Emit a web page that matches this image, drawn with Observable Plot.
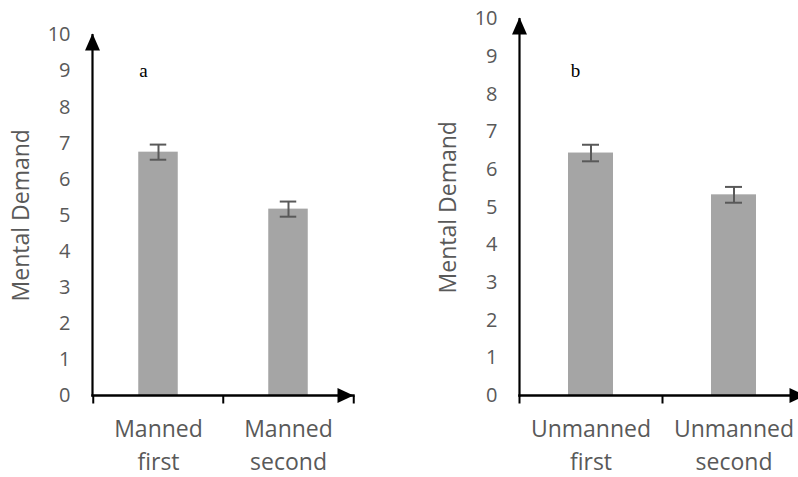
<!DOCTYPE html>
<html>
<head>
<meta charset="utf-8">
<script src="https://cdn.jsdelivr.net/npm/d3@7"></script>
<script src="https://cdn.jsdelivr.net/npm/@observablehq/plot@0.6"></script>
<style>
  html, body { margin: 0; padding: 0; background: #fff; overflow: hidden; }
  #wrap { position: relative; width: 798px; height: 477px; overflow: hidden; }
  #wrap > div { position: absolute; top: 0; }
  #wrap svg { max-width: none !important; }
</style>
</head>
<body>
<div id="wrap"><div id="pa"></div><div id="pb"></div></div>
<script>
// ---- data ----
const categoriesA = ["Manned\nfirst", "Manned\nsecond"];
const meansA = [6.75, 5.17];
const errorsA = [0.21, 0.21];

const categoriesB = ["Unmanned\nfirst", "Unmanned\nsecond"];
const meansB = [6.44, 5.33];
const errorsB = [0.22, 0.21];

const yTicks = [0, 1, 2, 3, 4, 5, 6, 7, 8, 9, 10];
const yLabel = "Mental Demand";
const panelLetters = ["a", "b"];

// ---- symbols ----
const arrowUp = { draw(ctx) { ctx.moveTo(0, 0); ctx.lineTo(-7.5, 17); ctx.lineTo(7.5, 17); ctx.closePath(); } };
const arrowRight = { draw(ctx) { ctx.moveTo(0, 0); ctx.lineTo(-16, -7.5); ctx.lineTo(-16, 7.5); ctx.closePath(); } };
const tickDown = { draw(ctx) { ctx.moveTo(0, 0); ctx.lineTo(0, 8); } };

const FONT = "'Open Sans', sans-serif";
const GREY_TEXT = "#595959";

function panel(cfg) {
  const data = cfg.categories.map((c, i) => ({ cat: c, mean: cfg.means[i], err: cfg.errors[i] }));
  const bw = (cfg.width - cfg.marginLeft - cfg.marginRight) / cfg.categories.length;
  const barInset = (bw - cfg.barWidth) / 2;
  const capInset = (bw - 17) / 2;
  const last = cfg.categories[cfg.categories.length - 1];
  return Plot.plot({
    width: cfg.width,
    height: 477,
    marginLeft: cfg.marginLeft,
    marginRight: cfg.marginRight,
    marginTop: cfg.marginTop,
    marginBottom: 82,
    style: { fontFamily: FONT, color: GREY_TEXT, background: "transparent", overflow: "visible", maxWidth: "none" },
    x: { domain: cfg.categories, padding: 0 },
    y: { domain: [0, 10] },
    marks: [
      Plot.barY(data, { x: "cat", y: "mean", fill: "#a5a5a5", insetLeft: barInset, insetRight: barInset }),
      Plot.ruleX(data, { x: "cat", y1: d => d.mean - d.err, y2: d => d.mean + d.err, stroke: "#595959", strokeWidth: 2 }),
      Plot.tickY(data, { x: "cat", y: d => d.mean + d.err, stroke: "#595959", strokeWidth: 2, insetLeft: capInset, insetRight: capInset }),
      Plot.tickY(data, { x: "cat", y: d => d.mean - d.err, stroke: "#595959", strokeWidth: 2, insetLeft: capInset, insetRight: capInset }),
      Plot.axisY({ ticks: yTicks, tickSize: 0, tickPadding: 22, fontSize: 20, label: null, fill: GREY_TEXT }),
      Plot.axisY({ ticks: [], label: yLabel, labelAnchor: "center", labelArrow: "none", labelOffset: cfg.labelOffset, fontSize: 23, fill: GREY_TEXT }),
      Plot.axisX({ tickSize: 0, tickPadding: 18, fontSize: 23, lineHeight: 1.43, label: null, fill: GREY_TEXT }),
      Plot.frame({ anchor: "left", stroke: "#000", strokeWidth: 2.2 }),
      Plot.frame({ anchor: "bottom", stroke: "#000", strokeWidth: 2.4 }),
      Plot.dot([0], { frameAnchor: "top-left", symbol: arrowUp, fill: "#000", stroke: "none", dy: -1.5 }),
      Plot.dot([0], { frameAnchor: "bottom-right", symbol: arrowRight, fill: "#000", stroke: "none" }),
      Plot.dot(cfg.categories, { x: d => d, y: 0, symbol: tickDown, stroke: "#000", strokeWidth: 2, dx: -bw / 2 }),
      Plot.dot([last], { x: d => d, y: 0, symbol: tickDown, stroke: "#000", strokeWidth: 2, dx: bw / 2 }),
      Plot.text([cfg.letter], { frameAnchor: "top-left", text: d => d, dx: cfg.letterDx, dy: cfg.letterDy, textAnchor: "middle", lineAnchor: "middle", fontFamily: "'Liberation Serif', 'Times New Roman', serif", fontSize: 19, fill: "#000" })
    ]
  });
}

document.getElementById("pa").appendChild(panel({
  categories: categoriesA, means: meansA, errors: errorsA,
  width: 400, marginLeft: 92, marginRight: 47, marginTop: 34.5,
  barWidth: 40, labelOffset: 80, letter: panelLetters[0], letterDx: 51, letterDy: 36
}));
const pb = document.getElementById("pb");
pb.style.left = "400px";
pb.appendChild(panel({
  categories: categoriesB, means: meansB, errors: errorsB,
  width: 410, marginLeft: 119, marginRight: 5, marginTop: 18.5,
  barWidth: 45, labelOffset: 80, letter: panelLetters[1], letterDx: 56, letterDy: 52
}));
</script>
</body>
</html>
